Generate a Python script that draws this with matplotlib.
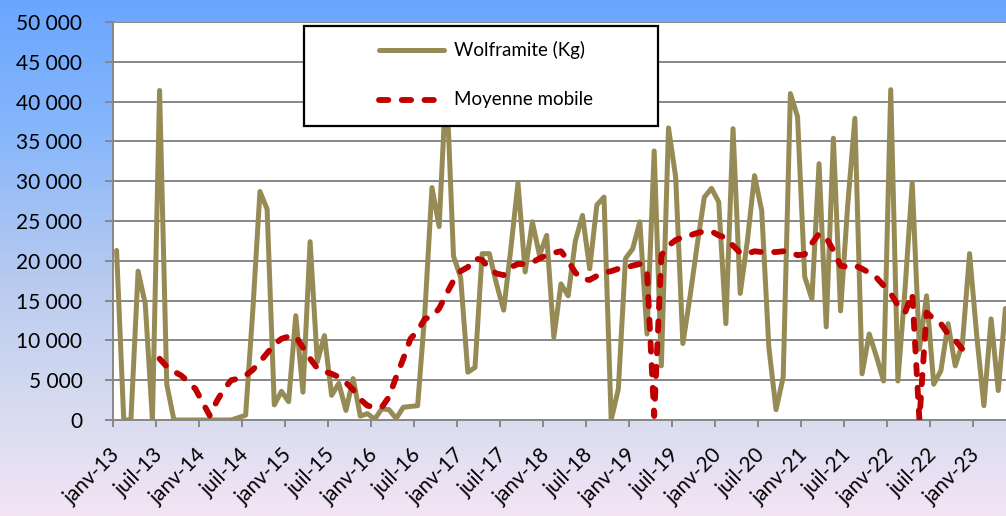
"""
Wolframite monthly production with moving average (janv-13 to mai-23).
"""

# Imports
import numpy as np
import matplotlib
matplotlib.use("Agg")
import matplotlib.pyplot as plt
import matplotlib.transforms as mtransforms
from matplotlib.colors import LinearSegmentedColormap
from matplotlib.patches import Rectangle
from matplotlib.lines import Line2D

# ----------------------------------------------------------------------------------------------------------------------
# Data (one value per month, starting janv-13)

wolframite = [21300, 0, 0, 18700, 14600, 0, 41400, 4500, 0, 0, 0, 0,
              0, 0, 0, 0, 0, 300, 600, 13700, 28700, 26500, 1900, 3600,
              2300, 13100, 3500, 22400, 7300, 10600, 3100, 4600, 1200, 5200, 500, 800,
              100, 1400, 1300, 200, 1600, 1700, 1800, 13400, 29200, 24300, 43000, 20600,
              17900, 6000, 6600, 20900, 20900, 17100, 13800, 21500, 29800, 18600, 24900, 20700,
              23200, 10400, 17100, 15600, 22500, 25700, 19000, 27000, 28000, 0, 3900, 20300,
              21500, 24900, 10800, 33800, 6800, 36700, 30500, 9600, 15500, 22000, 28000, 29100,
              27400, 12100, 36600, 15900, 22500, 30700, 26300, 9100, 1300, 5400, 41000, 38100,
              18000, 15200, 32200, 11700, 35400, 13700, 27000, 37900, 5800, 10800, 8000, 4900,
              41500, 4900, 16500, 29800, 8900, 15600, 4500, 6200, 12100, 6800, 9600, 20900,
              10600, 1800, 12700, 3700, 14000]

# moving average starts at month index 6 (juil-13)
ma_start = 6
moyenne_mobile = [7700, 6700, 6100, 5600, 4800, 3900,
                  2200, 550, 2400, 3900, 5000, 5200, 5600, 6300, 7300, 8400, 9500, 10200,
                  10500, 10500, 9100, 7700, 6500, 6100, 5800, 5400, 4700, 3800, 2600, 1800,
                  1600, 1600, 2900, 5400, 7700, 10200, 11200, 12700, 13000, 14000, 15800, 17500,
                  18700, 19200, 20300, 20100, 19000, 18400, 18200, 19200, 19600, 19600, 19800, 20300,
                  20700, 21000, 21200, 20000, 18500, 17700, 17600, 18100, 18500, 18700, 19000, 19100,
                  19400, 19600, 18700, 500, 20700, 21900, 22600, 23000, 23200, 23500, 23700, 23700,
                  23200, 22900, 21900, 21000, 20900, 21200, 21100, 21100, 21100, 21200, 21100, 20700,
                  20800, 22200, 23400, 22900, 21300, 19400, 19200, 19400, 19000, 18500, 17900, 16900,
                  15900, 14400, 13500, 15900, 0, 13500, 12700, 12100, 10800, 10000, 8900]

tick_labels = ["janv-13", "juil-13", "janv-14", "juil-14", "janv-15", "juil-15", "janv-16", "juil-16",
               "janv-17", "juil-17", "janv-18", "juil-18", "janv-19", "juil-19", "janv-20", "juil-20",
               "janv-21", "juil-21", "janv-22", "juil-22", "janv-23"]

y_ticks = list(range(0, 50001, 5000))

# ----------------------------------------------------------------------------------------------------------------------

W, H = 1006, 516
plt.rcParams['font.family'] = ['Lato', 'DejaVu Sans']

fig = plt.figure(figsize=(W / 100, H / 100), dpi=100)

# Background gradient
bg = fig.add_axes([0, 0, 1, 1], zorder=-10)
grad_cmap = LinearSegmentedColormap.from_list(
    "bg", [(0.0, "#6aa6ff"), (0.25, "#86b6fb"), (0.55, "#b9cbef"), (0.8, "#d8dcf0"), (1.0, "#f3e4f5")])
bg.imshow(np.linspace(0, 1, 256).reshape(-1, 1), aspect='auto', cmap=grad_cmap, extent=[0, 1, 0, 1])
bg.set_axis_off()

# Plot area
ax = fig.add_axes([113 / W, 96 / H, (1009 - 113) / W, 398 / H])
ax.set_facecolor("white")

x = np.arange(len(wolframite))
x_ma = np.arange(ma_start, ma_start + len(moyenne_mobile))

wolf_color = "#968a55"
ma_color = "#c00000"

ax.plot(x, wolframite, color=wolf_color, lw=3.6, solid_joinstyle='round', solid_capstyle='round', zorder=3)
ax.plot(x_ma, moyenne_mobile, color=ma_color, lw=4.2, dashes=(1.6, 2.3), dash_capstyle='round', zorder=4)

ax.set_xlim(-0.5, len(wolframite) - 0.5)
ax.set_ylim(0, 50000)

# Grid and axes
ax.set_yticks(y_ticks)
ax.set_yticklabels([f"{v:,}".replace(",", " ") for v in y_ticks], fontsize=15)
ax.yaxis.grid(True, color="#878787", lw=1.4, zorder=1)
ax.set_axisbelow(True)
for side in ["top", "right"]:
    ax.spines[side].set_visible(False)
for side in ["left", "bottom"]:
    ax.spines[side].set_color("#878787")
    ax.spines[side].set_linewidth(1.4)
ax.tick_params(axis='y', direction='out', length=6, width=1.4, color="#878787", pad=16)

ax.set_xticks([6 * k - 0.5 for k in range(len(tick_labels))])
ax.set_xticklabels(tick_labels, rotation=45, ha='right', va='center', rotation_mode='anchor', fontsize=15)
ax.tick_params(axis='x', direction='out', length=5, width=1.4, color="#878787", pad=18)
offset = mtransforms.ScaledTranslation(4 / 100, 0, fig.dpi_scale_trans)
for lab in ax.get_xticklabels():
    lab.set_transform(lab.get_transform() + offset)

# Legend box (drawn in figure pixels)
def px(xp, yp):
    return xp / W, 1 - yp / H

lx, ly = px(304, 126)
fig.add_artist(Rectangle((lx, ly), 354 / W, 100 / H, transform=fig.transFigure,
                         facecolor="white", edgecolor="black", lw=1.6, zorder=5))
x0, y0 = px(379, 50)
x1, _ = px(444, 50)
fig.add_artist(Line2D([x0, x1], [y0, y0], transform=fig.transFigure, color=wolf_color, lw=3.6,
                      solid_capstyle='round', zorder=6))
_, y1 = px(0, 100)
fig.add_artist(Line2D([x0, x1], [y1, y1], transform=fig.transFigure, color=ma_color, lw=4.2,
                      dashes=(1.6, 2.3), dash_capstyle='round', zorder=6))
tx, _ = px(454, 0)
fig.text(tx, y0, "Wolframite (Kg)", fontsize=13.5, va='center', ha='left', zorder=7)
fig.text(tx, y1, "Moyenne mobile", fontsize=13.5, va='center', ha='left', zorder=7)

fig.savefig("out.png", dpi=100)
